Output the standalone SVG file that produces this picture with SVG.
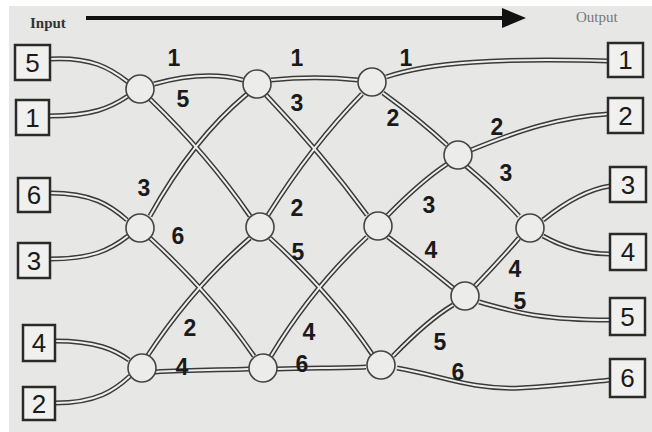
<svg xmlns="http://www.w3.org/2000/svg" width="652" height="432" viewBox="0 0 652 432">
<style>
.bg{fill:#e7e7e5}
.o{fill:none;stroke:#3a3a3a;stroke-width:5;stroke-linecap:butt}
.i{fill:none;stroke:#eeeeec;stroke-width:2}
.n{fill:#ececea;stroke:#444;stroke-width:1.6}
.b{fill:#f0f0ee;stroke:#2a2a2a;stroke-width:2.5}
.bt{font-family:"Liberation Sans",Arial,sans-serif;font-size:26px;fill:#1a1a1a;text-anchor:middle}
.l{font-family:"Liberation Sans",Arial,sans-serif;font-size:23px;font-weight:bold;fill:#1a1a1a;text-anchor:middle}
</style>
<defs>
<marker id="ah" markerWidth="6" markerHeight="5" refX="1" refY="2.5" orient="auto" markerUnits="strokeWidth">
<path d="M0,0 L6,2.5 L0,5 Z" fill="#111"/>
</marker>
<path id="e1" d="M50,59 C92,57 110,68 128,82"/>
<path id="e2" d="M49,116 C92,116 110,108 128,96"/>
<path id="e3" d="M50,193 C92,193 110,205 127,220"/>
<path id="e4" d="M50,259 C92,259 110,250 128,236"/>
<path id="e5" d="M55,341 C97,341 115,350 129,360"/>
<path id="e6" d="M55,403 C97,403 115,390 130,376"/>
<path id="e7" d="M154,84 C190,74 220,74 243,80"/>
<path id="e8" d="M150,99 Q208,155 250,216"/>
<path id="e9" d="M150,216 Q192,140 247,94"/>
<path id="e10" d="M150,238 Q212,295 254,356"/>
<path id="e11" d="M148,355 Q192,288 250,238"/>
<path id="e12" d="M155,372 C190,370 220,370 249,369"/>
<path id="e13" d="M271,80 C300,77 330,77 358,80"/>
<path id="e14" d="M266,95 Q323,155 367,215"/>
<path id="e15" d="M268,215 Q312,145 362,94"/>
<path id="e16" d="M270,238 Q332,295 372,354"/>
<path id="e17" d="M271,356 Q312,288 367,237"/>
<path id="e18" d="M277,369 C310,368 340,368 366,367"/>
<path id="e19" d="M386,77 C430,62 500,58 608,61"/>
<path id="e20" d="M383,93 Q420,120 447,145"/>
<path id="e21" d="M387,216 Q420,182 447,164"/>
<path id="e22" d="M388,237 Q425,265 453,288"/>
<path id="e23" d="M393,356 Q428,320 453,305"/>
<path id="e24" d="M397,368 C440,375 470,390 520,388 C560,386 590,382 610,380"/>
<path id="e25" d="M471,150 C520,130 560,117 608,114"/>
<path id="e26" d="M466,166 Q495,190 519,216"/>
<path id="e27" d="M475,286 Q500,260 519,238"/>
<path id="e28" d="M479,302 C515,312 540,320 610,320"/>
<path id="e29" d="M543,220 C568,200 590,189 610,186"/>
<path id="e30" d="M543,236 C568,250 590,254 610,254"/>
</defs>
<rect width="652" height="432" fill="#ffffff"/>
<rect class="bg" x="9" y="6" width="643" height="426"/>

<text x="30" y="28" font-family="Liberation Serif,serif" font-size="15" font-weight="bold" fill="#333">Input</text>
<line x1="86" y1="18" x2="506" y2="18" stroke="#111" stroke-width="4" marker-end="url(#ah)"/>
<text x="576" y="22" font-family="Liberation Serif,serif" font-size="15" fill="#777">Output</text>

<g id="connectors">
<g>
<use href="#e1" class="o"/><use href="#e2" class="o"/><use href="#e3" class="o"/><use href="#e4" class="o"/><use href="#e5" class="o"/><use href="#e6" class="o"/><use href="#e7" class="o"/><use href="#e8" class="o"/><use href="#e9" class="o"/><use href="#e10" class="o"/><use href="#e11" class="o"/><use href="#e12" class="o"/><use href="#e13" class="o"/><use href="#e14" class="o"/><use href="#e15" class="o"/><use href="#e16" class="o"/><use href="#e17" class="o"/><use href="#e18" class="o"/><use href="#e19" class="o"/><use href="#e20" class="o"/><use href="#e21" class="o"/><use href="#e22" class="o"/><use href="#e23" class="o"/><use href="#e24" class="o"/><use href="#e25" class="o"/><use href="#e26" class="o"/><use href="#e27" class="o"/><use href="#e28" class="o"/><use href="#e29" class="o"/><use href="#e30" class="o"/>
</g>
<g>
<use href="#e1" class="i"/><use href="#e2" class="i"/><use href="#e3" class="i"/><use href="#e4" class="i"/><use href="#e5" class="i"/><use href="#e6" class="i"/><use href="#e7" class="i"/><use href="#e8" class="i"/><use href="#e9" class="i"/><use href="#e10" class="i"/><use href="#e11" class="i"/><use href="#e12" class="i"/><use href="#e13" class="i"/><use href="#e14" class="i"/><use href="#e15" class="i"/><use href="#e16" class="i"/><use href="#e17" class="i"/><use href="#e18" class="i"/><use href="#e19" class="i"/><use href="#e20" class="i"/><use href="#e21" class="i"/><use href="#e22" class="i"/><use href="#e23" class="i"/><use href="#e24" class="i"/><use href="#e25" class="i"/><use href="#e26" class="i"/><use href="#e27" class="i"/><use href="#e28" class="i"/><use href="#e29" class="i"/><use href="#e30" class="i"/>
</g>
</g>

<g id="labels">
<text class="l" x="174" y="66">1</text>
<text class="l" x="183" y="107">5</text>
<text class="l" x="297" y="66">1</text>
<text class="l" x="297" y="111">3</text>
<text class="l" x="406" y="66">1</text>
<text class="l" x="393" y="126">2</text>
<text class="l" x="497" y="135">2</text>
<text class="l" x="506" y="181">3</text>
<text class="l" x="144" y="196">3</text>
<text class="l" x="178" y="244">6</text>
<text class="l" x="297" y="216">2</text>
<text class="l" x="298" y="260">5</text>
<text class="l" x="429" y="213">3</text>
<text class="l" x="431" y="258">4</text>
<text class="l" x="515" y="277">4</text>
<text class="l" x="520" y="309">5</text>
<text class="l" x="190" y="336">2</text>
<text class="l" x="182" y="375">4</text>
<text class="l" x="309" y="340">4</text>
<text class="l" x="302" y="372">6</text>
<text class="l" x="440" y="350">5</text>
<text class="l" x="458" y="380">6</text>
</g>

<g id="in5"><rect class="b" x="15" y="45" width="35" height="35"/><text class="bt" x="32.5" y="72">5</text></g>
<g id="in1"><rect class="b" x="16" y="100" width="33" height="35"/><text class="bt" x="32.5" y="127">1</text></g>
<g id="in6"><rect class="b" x="18" y="178" width="32" height="34"/><text class="bt" x="34" y="204">6</text></g>
<g id="in3"><rect class="b" x="18" y="243" width="32" height="35"/><text class="bt" x="34" y="270">3</text></g>
<g id="in4"><rect class="b" x="23" y="325" width="32" height="36"/><text class="bt" x="39" y="352">4</text></g>
<g id="in2"><rect class="b" x="23" y="387" width="32" height="33"/><text class="bt" x="39" y="413">2</text></g>

<g id="out1"><rect class="b" x="608" y="43" width="35" height="34"/><text class="bt" x="625.5" y="69">1</text></g>
<g id="out2"><rect class="b" x="608" y="98" width="35" height="35"/><text class="bt" x="625.5" y="125">2</text></g>
<g id="out3"><rect class="b" x="610" y="167" width="36" height="35"/><text class="bt" x="628" y="194">3</text></g>
<g id="out4"><rect class="b" x="610" y="234" width="36" height="36"/><text class="bt" x="628" y="261">4</text></g>
<g id="out5"><rect class="b" x="610" y="298" width="35" height="37"/><text class="bt" x="627.5" y="326">5</text></g>
<g id="out6"><rect class="b" x="610" y="359" width="35" height="38"/><text class="bt" x="627.5" y="387">6</text></g>

<g id="A"><circle class="n" cx="140" cy="89" r="14"/></g>
<g id="B"><circle class="n" cx="257" cy="84" r="14"/></g>
<g id="C"><circle class="n" cx="372" cy="82" r="14"/></g>
<g id="D"><circle class="n" cx="458" cy="155" r="14"/></g>
<g id="E"><circle class="n" cx="140" cy="228" r="14"/></g>
<g id="F"><circle class="n" cx="260" cy="227" r="14"/></g>
<g id="G"><circle class="n" cx="378" cy="226" r="14"/></g>
<g id="H"><circle class="n" cx="530" cy="228" r="14"/></g>
<g id="I"><circle class="n" cx="465" cy="296" r="14"/></g>
<g id="J"><circle class="n" cx="142" cy="368" r="14"/></g>
<g id="K"><circle class="n" cx="263" cy="368" r="14"/></g>
<g id="L"><circle class="n" cx="381" cy="365" r="14"/></g>
</svg>
